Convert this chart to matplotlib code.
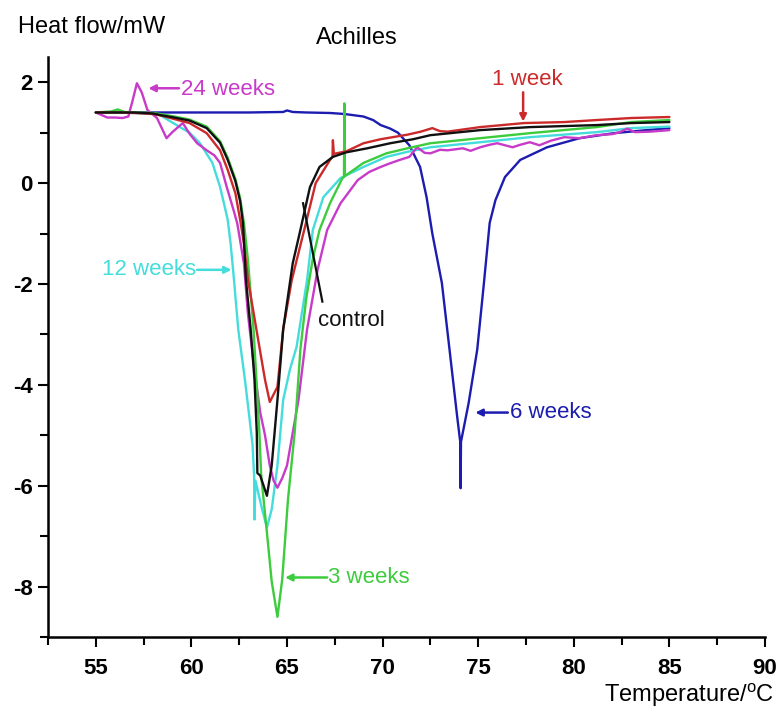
import numpy as np
import matplotlib.pyplot as plt

plt.rcParams['font.family'] = ['Liberation Sans', 'DejaVu Sans']
plt.rcParams['axes.unicode_minus'] = False

# DSC curves (temperature in °C, heat flow in mW)
t_1w = [55, 56, 57, 58, 58.4, 59.0, 59.9, 60.8, 61.5, 61.9, 62.3, 62.55, 62.75, 62.95, 63.4,
        63.85, 64.1, 64.5, 64.8, 65.25, 65.9, 66.5, 67.25, 67.38, 67.4, 67.45, 68.1, 69.0,
        69.9, 71.3, 72.0, 72.6, 73.0, 73.4, 75.1, 77.4, 79.5, 81.2, 83.0, 85.0]
hf_1w = [1.40, 1.40, 1.39, 1.37, 1.34, 1.28, 1.19, 0.99, 0.65, 0.26, -0.2, -0.73, -1.2, -1.9, -2.9,
         -3.9, -4.34, -4.04, -2.9, -1.92, -0.93, 0.0, 0.46, 0.52, 0.85, 0.58, 0.63, 0.79,
         0.87, 0.96, 1.02, 1.09, 1.03, 1.02, 1.11, 1.19, 1.21, 1.25, 1.29, 1.31]

t_ctrl = [55, 56, 57, 58, 58.35, 59.1, 59.9, 60.8, 61.5, 61.9, 62.3, 62.55, 62.7, 62.85, 63.1,
          63.3, 63.42, 63.45, 63.6, 63.95, 64.2, 64.5, 64.8, 65.3, 65.7, 66.2, 66.7, 67.4,
          68.1, 69.2, 70.4, 71.6, 72.5, 75.1, 77.7, 81.2, 83.0, 85.0]
hf_ctrl = [1.40, 1.40, 1.40, 1.38, 1.35, 1.30, 1.24, 1.09, 0.80, 0.46, 0.04, -0.36, -0.8, -1.9, -2.9,
           -3.9, -4.95, -5.75, -5.8, -6.2, -5.6, -4.3, -2.9, -1.59, -0.93, -0.08, 0.32, 0.52,
           0.61, 0.69, 0.79, 0.87, 0.95, 1.05, 1.11, 1.15, 1.19, 1.21]

t_3w = [55, 55.8, 56.15, 56.5, 57, 58, 58.35, 59.1, 59.9, 60.8, 61.5, 61.9, 62.3, 62.55, 62.75,
        62.95, 63.1, 63.25, 63.4, 63.55, 63.65, 63.95, 64.2, 64.5, 64.75, 65.05, 65.4, 65.7,
        66.0, 66.35, 66.7, 67.25, 67.9, 67.98, 68.0, 68.03, 69.0, 70.2, 71.3, 72.5, 75.1,
        77.7, 81.2, 83.0, 85.0]
hf_3w = [1.40, 1.42, 1.46, 1.41, 1.40, 1.39, 1.37, 1.32, 1.26, 1.12, 0.83, 0.50, 0.08, -0.3, -0.8,
         -1.5, -2.2, -2.9, -3.9, -4.9, -5.8, -6.93, -7.9, -8.6, -7.86, -6.28, -4.95, -3.3,
         -2.3, -1.5, -0.93, -0.4, 0.10, 0.12, 1.58, 0.14, 0.40, 0.59, 0.69, 0.79, 0.89,
         0.99, 1.11, 1.21, 1.25]

t_12w = [55, 56, 57, 58, 58.35, 59.4, 59.9, 60.45, 61.1, 61.5, 61.75, 61.9, 62.05, 62.2, 62.45,
         62.8, 63.05, 63.2, 63.28, 63.3, 63.35, 63.7, 63.95, 64.2, 64.5, 64.8, 65.15, 65.5,
         66.05, 66.35, 66.9, 67.8, 69.0, 70.2, 71.3, 72.5, 75.1, 77.7, 81.2, 83.0, 85.0]
hf_12w = [1.40, 1.40, 1.39, 1.37, 1.35, 1.11, 1.00, 0.79, 0.40, -0.08, -0.48, -0.73, -1.2, -1.8,
          -2.9, -3.9, -4.7, -5.2, -5.8, -6.67, -5.9, -6.47, -6.83, -6.47, -5.6, -4.3, -3.7,
          -3.25, -1.92, -0.93, -0.28, 0.10, 0.32, 0.52, 0.62, 0.71, 0.81, 0.91, 1.01, 1.09, 1.12]

t_24w = [55, 55.3, 55.6, 56.0, 56.4, 56.7, 56.9, 57.15, 57.4, 57.7, 58.2, 58.5, 58.7, 59.0, 59.55,
         59.9, 60.3, 60.8, 61.2, 61.5, 61.85, 62.2, 62.4, 62.75, 62.95, 63.25, 63.6, 63.85,
         64.1, 64.3, 64.5, 64.75, 65.0, 65.3, 65.6, 66.05, 66.6, 67.1, 67.8, 68.7, 69.3, 69.9,
         70.3, 70.9, 71.4, 71.8, 72.2, 72.5, 73.0, 73.4, 74.2, 74.6, 75.1, 75.6, 76.0, 76.8,
         77.2, 77.7, 78.2, 78.8, 79.5, 80.3, 81.2, 82.0, 82.4, 82.8, 83.2, 84.0, 85.0]
hf_24w = [1.40, 1.35, 1.30, 1.30, 1.29, 1.32, 1.60, 1.98, 1.80, 1.45, 1.29, 1.05, 0.89, 1.01, 1.19,
          0.98, 0.79, 0.65, 0.55, 0.40, -0.08, -0.53, -0.8, -1.6, -2.57, -3.56, -4.55, -5.0,
          -5.6, -5.9, -6.04, -5.85, -5.6, -4.95, -4.3, -2.9, -1.72, -0.93, -0.4, 0.06, 0.22,
          0.32, 0.38, 0.46, 0.52, 0.71, 0.60, 0.59, 0.66, 0.65, 0.69, 0.64, 0.71, 0.76, 0.79,
          0.71, 0.76, 0.81, 0.75, 0.84, 0.91, 0.89, 0.95, 0.97, 1.01, 1.08, 1.01, 1.02, 1.05]

t_6w = [55, 57, 59, 61, 63, 64.8, 65.0, 65.3, 66, 67.25, 68.0, 69.0, 69.5, 69.9, 70.4, 70.8,
        71.4, 71.96, 72.3, 72.6, 73.1, 73.5, 73.9, 74.06, 74.08, 74.1, 74.5, 74.95, 75.3,
        75.6, 75.9, 76.4, 77.2, 78.6, 80.3, 82.1, 83.8, 85.0]
hf_6w = [1.40, 1.40, 1.40, 1.40, 1.40, 1.41, 1.44, 1.41, 1.40, 1.39, 1.37, 1.32, 1.25, 1.15, 1.08,
         1.0, 0.75, 0.32, -0.28, -1.0, -1.98, -3.3, -4.63, -5.13, -6.05, -5.13, -4.36, -3.3,
         -1.98, -0.79, -0.34, 0.12, 0.46, 0.71, 0.89, 0.99, 1.05, 1.09]

c_1w = '#cc2a2a'
c_ctrl = '#111111'
c_3w = '#3dcc3d'
c_12w = '#45dcdc'
c_24w = '#c83ac8'
c_6w = '#1c1cb0'

fig = plt.figure(figsize=(7.79, 7.13), dpi=100)
ax = fig.add_axes([48 / 779, 1 - 637 / 713, (765 - 48) / 779, (637 - 57) / 713])

line_kw = dict(lw=1.7, solid_joinstyle='round', solid_capstyle='round')
ax.plot(t_6w, hf_6w, color=c_6w, **line_kw)
ax.plot(t_12w, hf_12w, color=c_12w, **line_kw)
ax.plot(t_24w, hf_24w, color=c_24w, **line_kw)
ax.plot(t_3w, hf_3w, color=c_3w, **line_kw)
ax.plot(t_1w, hf_1w, color=c_1w, **line_kw)
ax.plot(t_ctrl, hf_ctrl, color=c_ctrl, **line_kw)

ax.set_xlim(52.5, 90)
ax.set_ylim(-9, 2.5)
ax.spines['top'].set_visible(False)
ax.spines['right'].set_visible(False)
ax.spines['left'].set_linewidth(1.8)
ax.spines['bottom'].set_linewidth(1.8)

ax.set_xticks(np.arange(55, 91, 5))
ax.set_xticks(np.arange(52.5, 90.1, 2.5), minor=True)
ax.set_yticks(np.arange(-8, 3, 2))
ax.set_yticks(np.arange(-9, 2.6, 1), minor=True)
ax.tick_params(which='major', direction='out', length=7, width=1.5)
ax.tick_params(which='minor', direction='out', length=6, width=1.5)
ax.tick_params(axis='x', pad=8)
ax.tick_params(axis='y', pad=4)
for lab in ax.get_xticklabels():
    lab.set_fontsize(16)
    lab.set_fontweight('bold')
for lab in ax.get_yticklabels():
    lab.set_fontsize(16)
    lab.set_fontweight('bold')

arrow = dict(arrowstyle='-|>', lw=1.8, mutation_scale=10, shrinkA=0, shrinkB=0)

ax.annotate('', xy=(57.75, 1.88), xytext=(59.35, 1.88), arrowprops=dict(arrow, color=c_24w))
ax.text(59.45, 1.86, '24 weeks', color=c_24w, fontsize=16, ha='left', va='center')

ax.annotate('', xy=(77.35, 1.22), xytext=(77.35, 1.80), arrowprops=dict(arrow, color=c_1w))
ax.text(77.55, 2.05, '1 week', color=c_1w, fontsize=16, ha='center', va='center')

ax.annotate('', xy=(62.1, -1.72), xytext=(60.3, -1.72), arrowprops=dict(arrow, color=c_12w))
ax.text(60.25, -1.72, '12 weeks', color=c_12w, fontsize=16, ha='right', va='center')

ax.plot([65.84, 66.85], [-0.4, -2.35], color=c_ctrl, lw=1.6)
ax.text(66.6, -2.72, 'control', color=c_ctrl, fontsize=16, ha='left', va='center')

ax.annotate('', xy=(64.9, -7.82), xytext=(67.1, -7.82), arrowprops=dict(arrow, color=c_3w))
ax.text(67.15, -7.82, '3 weeks', color=c_3w, fontsize=16, ha='left', va='center')

ax.annotate('', xy=(74.85, -4.55), xytext=(76.55, -4.55), arrowprops=dict(arrow, color=c_6w))
ax.text(76.65, -4.55, '6 weeks', color=c_6w, fontsize=16, ha='left', va='center')

fig.text(357 / 779, 1 - 38 / 713, 'Achilles', fontsize=17, ha='center', va='center')
fig.text(18 / 779, 1 - 27 / 713, 'Heat flow/mW', fontsize=17, ha='left', va='center')
fig.text(774 / 779, 1 - 695 / 713, 'Temperature/$^\\mathregular{o}$C', fontsize=17,
         ha='right', va='center')

fig.savefig('out.png', dpi=100)
